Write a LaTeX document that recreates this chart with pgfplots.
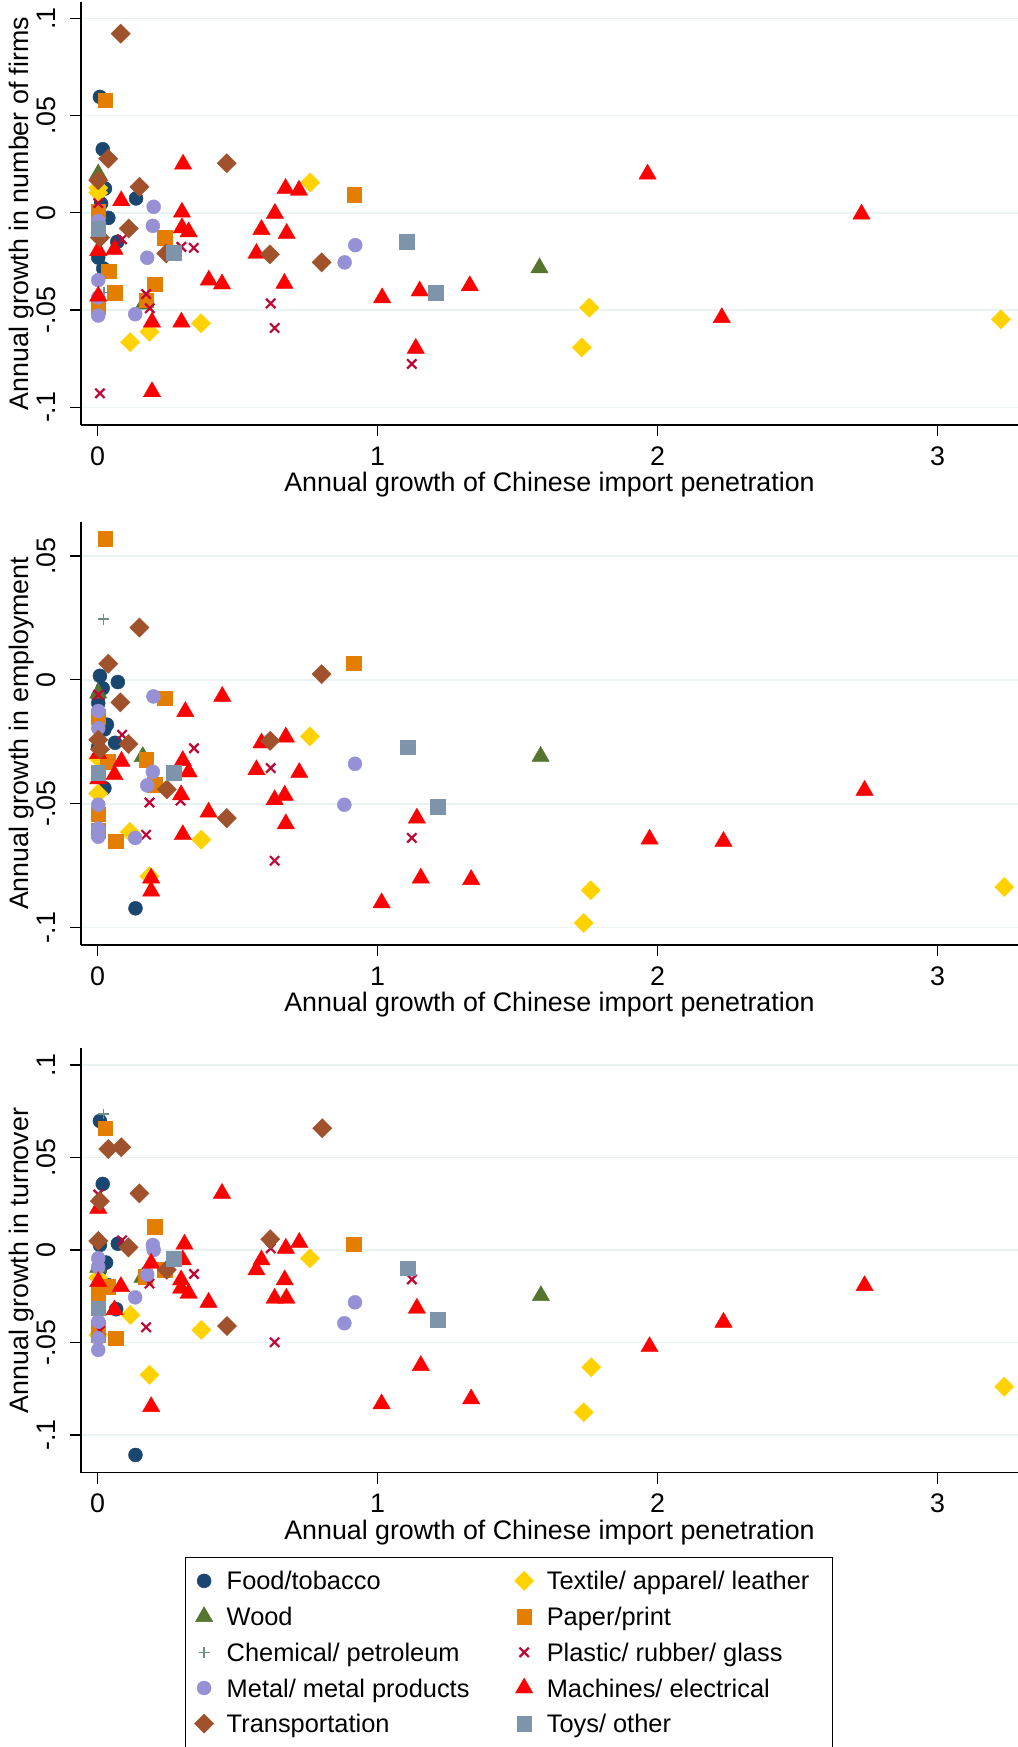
\documentclass[border=0pt]{standalone}
\usepackage{fontspec}
\setmainfont{Liberation Sans}
\usepackage{pgfplots}
\pgfplotsset{compat=1.18}
\definecolor{cfood}{RGB}{26,71,111}
\definecolor{ctext}{RGB}{255,210,0}
\definecolor{cwood}{RGB}{85,117,47}
\definecolor{cpaper}{RGB}{227,126,0}
\definecolor{cchem}{RGB}{110,142,132}
\definecolor{cplast}{RGB}{193,5,52}
\definecolor{cmetal}{RGB}{150,145,212}
\definecolor{cmach}{RGB}{255,0,0}
\definecolor{ctrans}{RGB}{160,82,45}
\definecolor{ctoys}{RGB}{126,148,170}
\definecolor{cgrid}{RGB}{234,242,243}
\pgfplotsset{
  panel/.style={
    scale only axis, width=468.5pt, anchor=north west,
    xmin=-0.0596, xmax=3.287,
    axis x line*=bottom, axis y line*=left,
    axis line style={line width=0.6pt, black},
    tick align=outside, major tick length=5.5pt,
    tick style={line width=0.6pt, black},
    xtick={0,1,2,3}, xticklabels={0,1,2,3},
    minor tick num=0,
    ymajorgrids, grid style={line width=0.8pt, cgrid},
    tick label style={font=\fontsize{13.4}{16}\selectfont},
    label style={font=\fontsize{13.4}{16}\selectfont},
    /pgf/number format/assume math mode=true,
    yticklabel style={rotate=90, anchor=south, inner xsep=0pt, inner ysep=7pt},
    xticklabel style={anchor=base, inner sep=0pt, yshift=-14.5pt},
    xlabel={Annual growth of Chinese import penetration},
    xlabel style={at={(axis description cs:0.5,0)}, anchor=base, inner sep=0pt, yshift=-33.4pt},
    ylabel style={at={(axis description cs:-0.056,0.5)}, anchor=base},
  },
  sfood/.style={only marks, mark=*, mark size=3.5pt, color=cfood, mark options={line width=0.2pt}},
  stext/.style={only marks, mark=square*, mark size=3.4pt, color=ctext, mark options={rotate=45, line width=0.2pt}},
  swood/.style={only marks, mark=triangle*, mark size=5pt, color=cwood, mark options={line width=0.2pt}},
  spaper/.style={only marks, mark=square*, mark size=3.7pt, color=cpaper, mark options={line width=0.2pt}},
  schem/.style={only marks, mark=+, mark size=2.7pt, color=cchem, mark options={line width=0.8pt}},
  splast/.style={only marks, mark=x, mark size=3.3pt, color=cplast, mark options={line width=1.1pt}},
  smetal/.style={only marks, mark=*, mark size=3.5pt, color=cmetal, mark options={line width=0.2pt}},
  smach/.style={only marks, mark=triangle*, mark size=5pt, color=cmach, mark options={line width=0.2pt}},
  strans/.style={only marks, mark=square*, mark size=3.4pt, color=ctrans, mark options={rotate=45, line width=0.2pt}},
  stoys/.style={only marks, mark=square*, mark size=3.7pt, color=ctoys, mark options={line width=0.2pt}},
}
\begin{document}
\begin{tikzpicture}
\useasboundingbox (0,0) rectangle (509pt,-873.5pt);
% ---------------- Panel 1: number of firms ----------------
\begin{axis}[panel, at={(40.5pt,-1pt)}, height=211.5pt,
  ymin=-0.1091, ymax=0.1084,
  ytick={-0.1,-0.05,0,0.05,0.1}, yticklabels={-.1,-.05,0,.05,.1},
  ylabel={Annual growth in number of firms}]
\addplot[sfood] coordinates {(0.008,0.0596)(0.018,0.0327)(0.026,0.0125)(0.012,0.0048)(0.038,-0.0026)(0.137,0.0074)(0.070,-0.0149)(0.002,-0.0230)(0.020,-0.0286)};
\addplot[stext] coordinates {(0.002,0.0128)(0.002,0.0103)(0.759,0.0156)(0.116,-0.0665)(0.185,-0.0611)(0.369,-0.0568)(1.756,-0.0488)(1.729,-0.0692)(3.226,-0.0548)};
\addplot[swood] coordinates {(0.002,0.0200)(0.164,-0.0470)(1.578,-0.0283)};
\addplot[spaper] coordinates {(0.027,0.0579)(0.002,0.0005)(0.239,-0.0127)(0.038,-0.0300)(0.203,-0.0367)(0.062,-0.0410)(0.173,-0.0449)(0.002,-0.0483)(0.916,0.0094)};
\addplot[schem] coordinates {(0.022,-0.0410)};
\addplot[splast] coordinates {(0.002,0.0050)(0.087,-0.0136)(0.299,-0.0175)(0.343,-0.0180)(0.173,-0.0418)(0.186,-0.0491)(0.618,-0.0466)(0.632,-0.0592)(0.008,-0.0928)(1.122,-0.0777)};
\addplot[smetal] coordinates {(0.002,-0.0042)(0.200,0.0031)(0.197,-0.0067)(0.177,-0.0231)(0.002,-0.0346)(0.002,-0.0435)(0.002,-0.0528)(0.134,-0.0521)(0.920,-0.0166)(0.882,-0.0255)};
\addplot[smach] coordinates {(0.305,0.0250)(0.084,0.0062)(0.301,0.0003)(0.301,-0.0077)(0.325,-0.0098)(0.671,0.0125)(0.719,0.0116)(0.633,-0.0003)(0.585,-0.0086)(0.675,-0.0106)(0.567,-0.0209)(0.002,-0.0194)(0.060,-0.0188)(0.397,-0.0346)(0.444,-0.0366)(0.667,-0.0363)(0.002,-0.0428)(1.016,-0.0437)(0.194,-0.0562)(0.299,-0.0562)(0.194,-0.0920)(1.150,-0.0402)(1.329,-0.0375)(1.964,0.0199)(2.728,-0.0007)(2.229,-0.0539)(1.136,-0.0697)};
\addplot[strans] coordinates {(0.082,0.0921)(0.038,0.0278)(0.002,0.0168)(0.149,0.0134)(0.111,-0.0081)(0.008,-0.0128)(0.461,0.0255)(0.245,-0.0209)(0.615,-0.0214)(0.800,-0.0255)};
\addplot[stoys] coordinates {(0.002,-0.0080)(0.271,-0.0204)(1.104,-0.0149)(1.207,-0.0410)};
\end{axis}
% ---------------- Panel 2: employment ----------------
\begin{axis}[panel, at={(40.5pt,-260.85pt)}, height=211.65pt,
  ymin=-0.107, ymax=0.0638,
  ytick={-0.1,-0.05,0,0.05}, yticklabels={-.1,-.05,0,.05},
  ylabel={Annual growth in employment}]
\addplot[sfood] coordinates {(0.008,0.0016)(0.072,-0.0009)(0.018,-0.0034)(0.002,-0.0067)(0.002,-0.0094)(0.033,-0.0181)(0.024,-0.0200)(0.062,-0.0254)(0.002,-0.0270)(0.024,-0.0437)(0.135,-0.0922)};
\addplot[stext] coordinates {(0.002,-0.0316)(0.002,-0.0459)(0.758,-0.0228)(0.115,-0.0614)(0.370,-0.0645)(0.185,-0.0793)(1.761,-0.0849)(1.736,-0.0981)(3.238,-0.0836)};
\addplot[swood] coordinates {(0.002,-0.0054)(0.161,-0.0310)(1.582,-0.0309)};
\addplot[spaper] coordinates {(0.027,0.0571)(0.915,0.0067)(0.239,-0.0074)(0.002,-0.0148)(0.036,-0.0329)(0.173,-0.0323)(0.204,-0.0423)(0.002,-0.0542)(0.002,-0.0610)(0.063,-0.0651)};
\addplot[schem] coordinates {(0.021,0.0245)};
\addplot[splast] coordinates {(0.002,-0.0060)(0.087,-0.0222)(0.344,-0.0276)(0.618,-0.0356)(0.185,-0.0495)(0.296,-0.0487)(0.173,-0.0625)(0.632,-0.0730)(1.122,-0.0638)(0.008,-0.0400)};
\addplot[smetal] coordinates {(0.199,-0.0067)(0.002,-0.0126)(0.002,-0.0195)(0.197,-0.0371)(0.177,-0.0426)(0.002,-0.0504)(0.002,-0.0600)(0.002,-0.0633)(0.134,-0.0638)(0.919,-0.0339)(0.881,-0.0504)};
\addplot[smach] coordinates {(0.445,-0.0067)(0.313,-0.0128)(0.672,-0.0231)(0.585,-0.0255)(0.002,-0.0298)(0.085,-0.0329)(0.304,-0.0326)(0.325,-0.0372)(0.060,-0.0383)(0.567,-0.0363)(0.720,-0.0374)(0.298,-0.0464)(0.632,-0.0484)(0.668,-0.0466)(0.396,-0.0534)(0.304,-0.0625)(0.672,-0.0581)(0.191,-0.0800)(0.191,-0.0853)(1.014,-0.0900)(1.140,-0.0558)(1.154,-0.0800)(1.334,-0.0806)(1.971,-0.0643)(2.235,-0.0652)(2.739,-0.0446)(0.002,-0.0400)};
\addplot[strans] coordinates {(0.149,0.0211)(0.038,0.0065)(0.800,0.0023)(0.081,-0.0091)(0.002,-0.0242)(0.110,-0.0259)(0.008,-0.0280)(0.247,-0.0442)(0.461,-0.0558)(0.616,-0.0246)};
\addplot[stoys] coordinates {(0.002,-0.0376)(0.271,-0.0376)(1.106,-0.0272)(1.214,-0.0513)};
\end{axis}
% ---------------- Panel 3: turnover ----------------
\begin{axis}[panel, at={(40.5pt,-524.15pt)}, height=212.2pt,
  ymin=-0.1204, ymax=0.109,
  ytick={-0.1,-0.05,0,0.05,0.1}, yticklabels={-.1,-.05,0,.05,.1},
  ylabel={Annual growth in turnover},
  legend columns=2,
  legend cell align=left,
  legend style={at={(0.111,-0.1986)}, anchor=north west, draw=black, line width=0.5pt,
    inner xsep=4.5pt, inner ysep=5.7pt, column sep=6.5pt, row sep=5.85pt,
    font=\fontsize{12.7}{15}\selectfont,
    nodes={inner sep=0pt, text height=10.5pt, text depth=1.5pt}},
  /tikz/every even column/.append style={column sep=22.5pt},
  legend image code/.code={\path[draw=none,fill=none] (-4pt,-1pt) rectangle (4pt,1pt); \draw[#1] plot coordinates {(0pt,0pt)};},
  legend entries={Food/tobacco, Textile/ apparel/ leather\hspace*{7pt}, Wood, Paper/print, Chemical/ petroleum, Plastic/ rubber/ glass, Metal/ metal products, Machines/ electrical, Transportation, Toys/ other}]
\addplot[sfood] coordinates {(0.008,0.0697)(0.018,0.0357)(0.008,0.0027)(0.072,0.0034)(0.030,-0.0068)(0.008,-0.0108)(0.036,-0.0189)(0.066,-0.0320)(0.135,-0.1108)};
\addplot[stext] coordinates {(0.002,-0.0150)(0.002,-0.0460)(0.117,-0.0351)(0.370,-0.0432)(0.185,-0.0674)(0.758,-0.0045)(1.763,-0.0634)(1.736,-0.0877)(3.238,-0.0739)};
\addplot[swood] coordinates {(0.002,-0.0095)(0.160,-0.0148)(1.583,-0.0247)};
\addplot[spaper] coordinates {(0.027,0.0658)(0.203,0.0127)(0.915,0.0031)(0.239,-0.0105)(0.170,-0.0143)(0.036,-0.0197)(0.002,-0.0234)(0.002,-0.0420)(0.063,-0.0477)(0.002,-0.0460)};
\addplot[schem] coordinates {(0.021,0.0735)};
\addplot[splast] coordinates {(0.002,0.0300)(0.087,0.0052)(0.618,0.0009)(0.344,-0.0130)(0.185,-0.0182)(0.173,-0.0418)(0.632,-0.0499)(0.008,-0.0437)(1.122,-0.0159)};
\addplot[smetal] coordinates {(0.197,0.0027)(0.200,0.0000)(0.002,-0.0045)(0.002,-0.0092)(0.177,-0.0133)(0.134,-0.0256)(0.002,-0.0387)(0.002,-0.0477)(0.002,-0.0540)(0.919,-0.0283)(0.881,-0.0396)};
\addplot[smach] coordinates {(0.444,0.0306)(0.002,0.0225)(0.310,0.0031)(0.672,0.0009)(0.720,0.0041)(0.191,-0.0072)(0.304,-0.0054)(0.585,-0.0054)(0.567,-0.0108)(0.002,-0.0171)(0.083,-0.0198)(0.298,-0.0162)(0.298,-0.0207)(0.325,-0.0234)(0.668,-0.0162)(0.632,-0.0261)(0.674,-0.0261)(0.396,-0.0283)(0.060,-0.0324)(0.191,-0.0847)(1.014,-0.0832)(1.140,-0.0315)(1.154,-0.0625)(1.334,-0.0805)(1.971,-0.0523)(2.235,-0.0391)(2.739,-0.0193)};
\addplot[strans] coordinates {(0.038,0.0546)(0.084,0.0555)(0.149,0.0306)(0.008,0.0264)(0.002,0.0048)(0.110,0.0014)(0.802,0.0658)(0.616,0.0058)(0.247,-0.0107)(0.462,-0.0411)};
\addplot[stoys] coordinates {(0.271,-0.0049)(0.002,-0.0315)(1.106,-0.0099)(1.214,-0.0375)};
\end{axis}
\end{tikzpicture}
\end{document}
